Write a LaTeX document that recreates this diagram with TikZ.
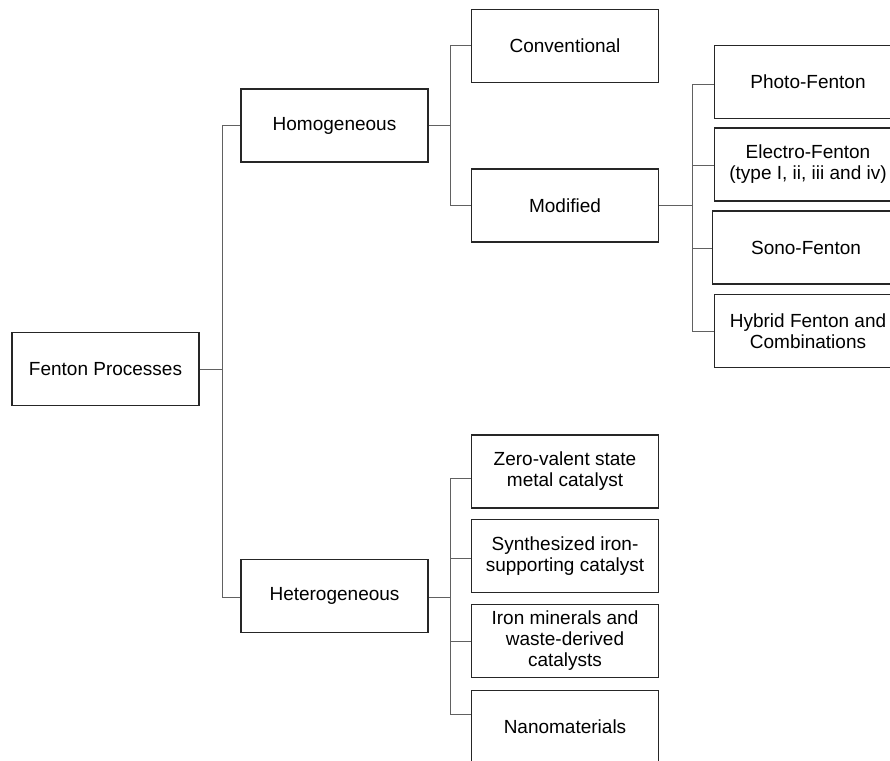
\documentclass[tikz,border=0pt]{standalone}
\usepackage{fontspec}
\setmainfont{Liberation Sans}
\begin{document}
\begin{tikzpicture}[x=1pt,y=-1pt,
  box/.style={draw=black!85,line width=1.7pt,fill=white,minimum width=187pt,minimum height=73pt,
    align=center,inner sep=0pt,font=\fontsize{19}{21}\selectfont},
  conn/.style={draw=black!62,line width=1pt}]
\useasboundingbox (0,0) rectangle (890,760);
\clip (0,0) rectangle (890,760);
\fill[white] (0,0) rectangle (890,760);
% nodes
\node[box] (fp) at (105.5,369) {Fenton Processes};
\node[box] (homo) at (334.5,125.5) {Homogeneous};
\node[box] (hetero) at (334.5,596) {Heterogeneous};
\node[box] (conv) at (565,46) {Conventional};
\node[box] (mod) at (565,205.5) {Modified};
\node[box] (photo) at (808,82) {Photo-Fenton};
\node[box] (electro) at (808,164.5) {Electro-Fenton\\(type I, ii, iii and iv)};
\node[box] (sono) at (806,247.5) {Sono-Fenton};
\node[box] (hybrid) at (808,331) {Hybrid Fenton and\\Combinations};
\node[box] (zero) at (565,471.5) {Zero-valent state\\metal catalyst};
\node[box] (synth) at (565,556) {Synthesized iron-\\supporting catalyst};
\node[box] (iron) at (565,641) {Iron minerals and\\waste-derived\\catalysts};
\node[box] (nano) at (565,727) {Nanomaterials};
% trunk coordinates
\coordinate (t1) at (222,369);
\coordinate (t2) at (450,125.5);
\coordinate (t3) at (692,205.5);
\coordinate (t4) at (450,597);
% connectors
\draw[conn] (fp.east) -- (t1);
\draw[conn] (t1) |- (homo.west);
\draw[conn] (t1) |- ([yshift=-1pt]hetero.west);
\draw[conn] (homo.east) -- (t2);
\draw[conn] (t2) |- (conv.west);
\draw[conn] (t2) |- (mod.west);
\draw[conn] (mod.east) -- (t3);
\draw[conn] (t3) |- ([yshift=-2pt]photo.west);
\draw[conn] (t3) |- ([yshift=-0.5pt]electro.west);
\draw[conn] (t3) |- ([yshift=-0.5pt]sono.west);
\draw[conn] (t3) |- (hybrid.west);
\draw[conn] ([yshift=-1pt]hetero.east) -- (t4);
\draw[conn] (t4) |- ([yshift=-6.5pt]zero.west);
\draw[conn] (t4) |- ([yshift=-2pt]synth.west);
\draw[conn] (t4) |- (iron.west);
\draw[conn] (t4) |- ([yshift=13pt]nano.west);
\end{tikzpicture}
\end{document}
